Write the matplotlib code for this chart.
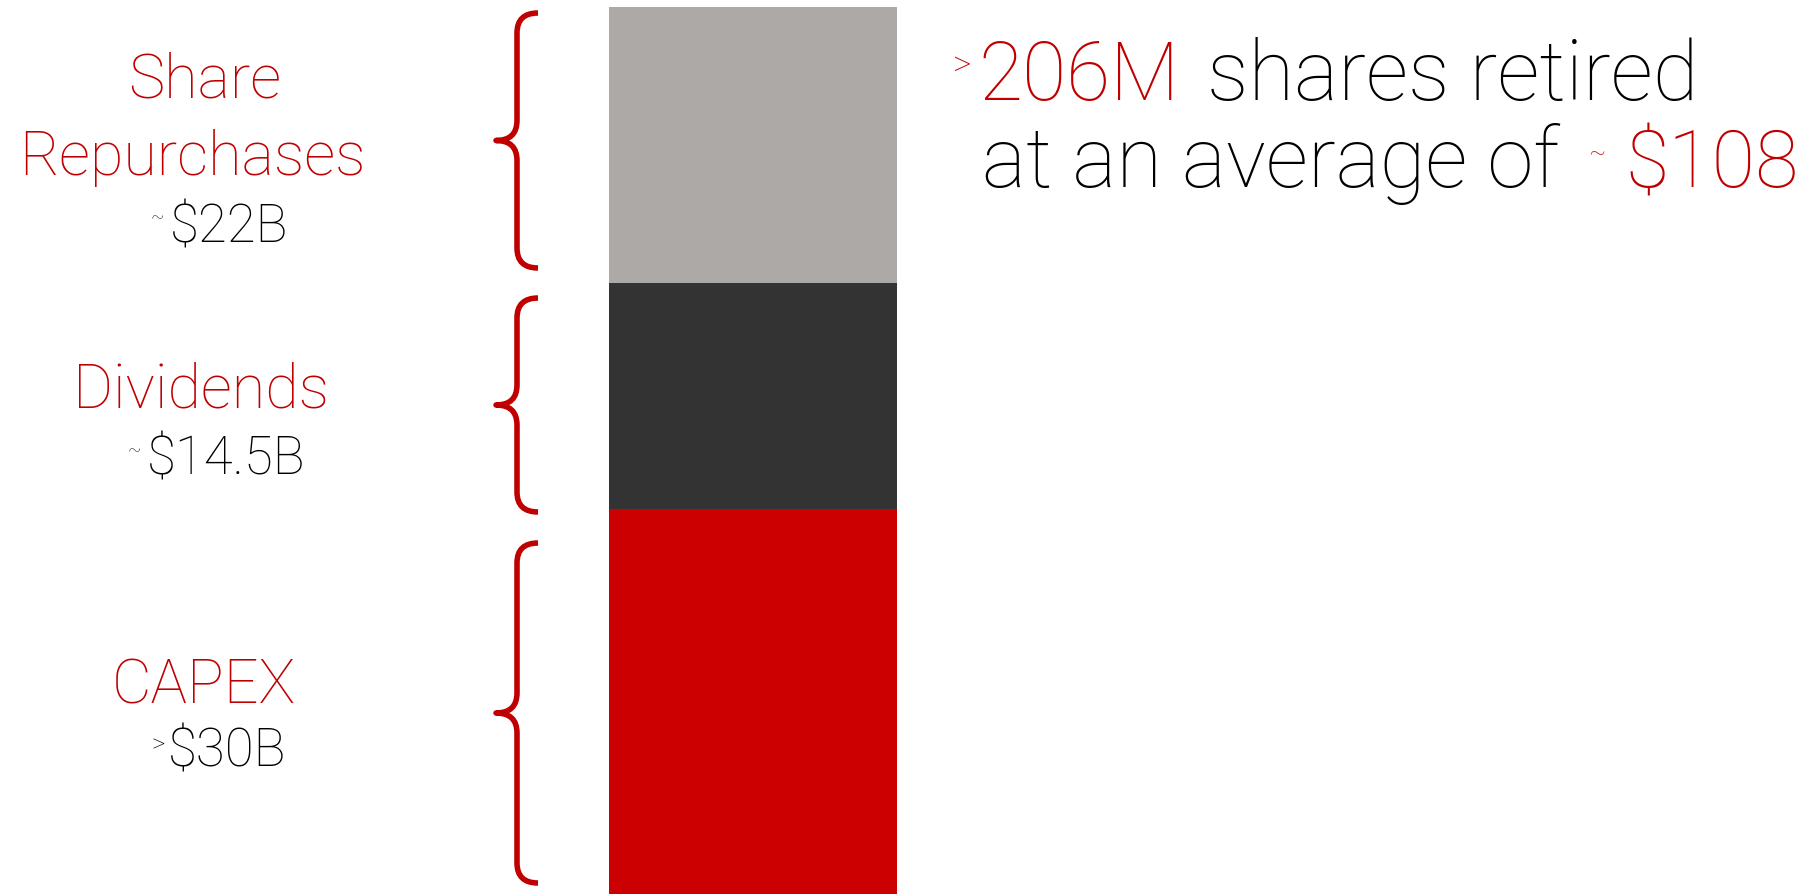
import matplotlib
matplotlib.use("Agg")
import matplotlib.pyplot as plt
from matplotlib.path import Path
from matplotlib.patches import PathPatch

# capital allocation, bottom to top ($B, bar heights as drawn)
categories = ["CAPEX", "Dividends", "Share\nRepurchases"]
values = [30.0, 17.6, 21.5]
value_labels = [">$30B", "~$14.5B", "~$22B"]
seg_colors = ["#CC0000", "#333333", "#ADA9A6"]

RED = "#C00000"
FONT = "Roboto"
WEIGHT = "light"
W, H = 1801, 894

plt.rcParams["font.family"] = [FONT, "DejaVu Sans"]

fig = plt.figure(figsize=(W / 100, H / 100), dpi=100)

# stacked bar
bar_left, bar_right, bar_top = 609, 897, 7
ax = fig.add_axes([bar_left / W, 0, (bar_right - bar_left) / W, (H - bar_top) / H])
bottom = 0
for v, c in zip(values, seg_colors):
    ax.bar(0, v, bottom=bottom, width=1.0, color=c, linewidth=0)
    bottom += v
ax.set_xlim(-0.5, 0.5)
ax.set_ylim(0, bottom)
ax.axis("off")

# overlay in pixel coords for braces and text
ov = fig.add_axes([0, 0, 1, 1])
ov.set_xlim(0, W)
ov.set_ylim(H, 0)
ov.axis("off")


def brace(y0, y1, xv=517, xr=538, xt=496, r=20):
    yc = (y0 + y1) / 2
    verts = [(xr, y0), (xv, y0), (xv, y0 + r),
             (xv, yc - r), (xv, yc), (xt, yc),
             (xv, yc), (xv, yc + r),
             (xv, y1 - r), (xv, y1), (xr, y1)]
    codes = [Path.MOVETO, Path.CURVE3, Path.CURVE3,
             Path.LINETO, Path.CURVE3, Path.CURVE3,
             Path.CURVE3, Path.CURVE3,
             Path.LINETO, Path.CURVE3, Path.CURVE3]
    ov.add_patch(PathPatch(Path(verts, codes), fill=False, edgecolor=RED,
                           lw=4.0, capstyle="butt", joinstyle="round"))


brace_spans = [(543, 883), (298, 512), (13, 268)]
for y0, y1 in brace_spans:
    brace(y0, y1)

# left labels (one x per line, last line sits on the baseline)
label_x = [[204], [201], [205, 192]]
label_y = [703, 408, 175]
value_pos = [(168, 767), (147, 475), (170, 242)]
for cat, vl, xs, ly, (vx, vy) in zip(categories, value_labels, label_x, label_y, value_pos):
    lines = cat.split("\n")
    for i, (line, lx) in enumerate(zip(lines, xs)):
        ov.text(lx, ly - 77 * (len(lines) - 1 - i), line, color=RED, fontsize=44,
                fontweight=WEIGHT, ha="center", va="baseline")
    ov.text(vx, vy, vl[1:], color="black", fontsize=38, fontweight=WEIGHT,
            ha="left", va="baseline")
    if vl[0] == ">":
        ov.text(vx - 3, vy - 22, ">", color="black", fontsize=19,
                fontweight=WEIGHT, ha="right", va="center")
    else:
        ov.text(vx - 6, vy - 24, "~", color="black", fontsize=14,
                fontweight=WEIGHT, ha="right", va="center")

# right callout
ov.text(972, 66, ">", color=RED, fontsize=26, fontweight=WEIGHT, ha="right", va="center")
ov.text(978, 100, "206M", color=RED, fontsize=58, fontweight=WEIGHT, ha="left", va="baseline")
ov.text(1207, 100, "shares retired", color="black", fontsize=60, fontweight=WEIGHT,
        ha="left", va="baseline")
ov.text(982, 187, "at an average of", color="black", fontsize=60, fontweight=WEIGHT,
        ha="left", va="baseline")
ov.text(1606, 153, "~", color=RED, fontsize=18, fontweight=WEIGHT, ha="right", va="center")
ov.text(1625, 187, "$108", color=RED, fontsize=57, fontweight=WEIGHT, ha="left", va="baseline")

fig.savefig("out.png", dpi=100, facecolor="white")
